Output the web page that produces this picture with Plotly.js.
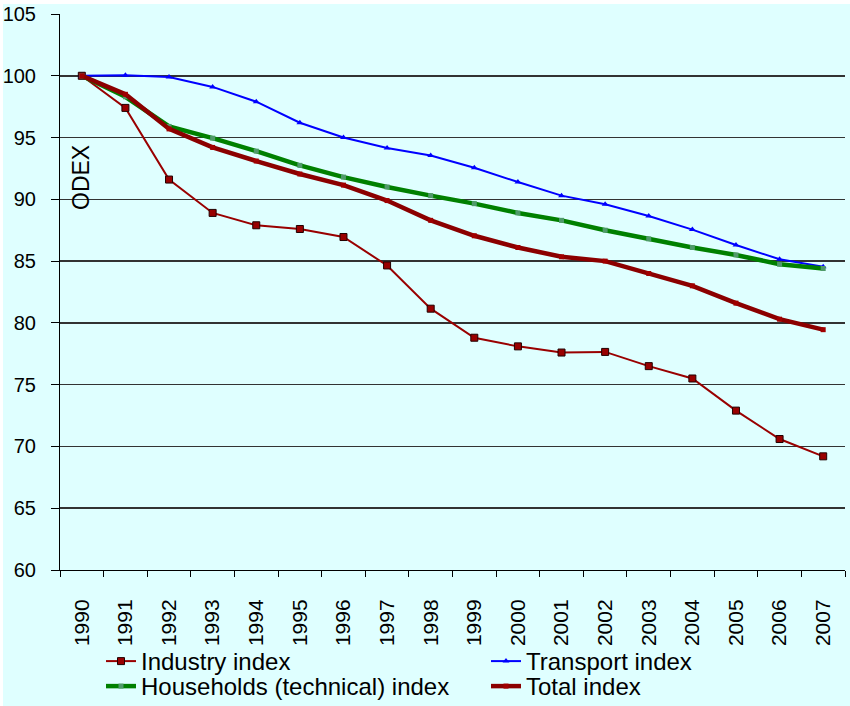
<!DOCTYPE html>
<html>
<head>
<meta charset="utf-8">
<script src="https://cdn.plot.ly/plotly-3.0.1.min.js"></script>
<style>html,body{margin:0;padding:0;background:#fff;}#chart{width:850px;height:706px;}</style>
</head>
<body>
<div id="chart"></div>
<script>
var years = ["1990","1991","1992","1993","1994","1995","1996","1997","1998","1999","2000","2001","2002","2003","2004","2005","2006","2007"];
var industryIndex = [100, 97.4, 91.6, 88.9, 87.9, 87.6, 86.95, 84.65, 81.15, 78.8, 78.1, 77.6, 77.65, 76.5, 75.5, 72.9, 70.6, 69.2];
var transportIndex = [100, 100.05, 99.9, 99.1, 97.9, 96.2, 95.0, 94.15, 93.55, 92.55, 91.4, 90.3, 89.6, 88.65, 87.55, 86.3, 85.15, 84.55];
var householdsIndex = [100, 98.3, 95.9, 94.95, 93.9, 92.75, 91.8, 91.0, 90.3, 89.65, 88.9, 88.3, 87.5, 86.8, 86.1, 85.5, 84.75, 84.4];
var totalIndex = [100, 98.5, 95.7, 94.2, 93.1, 92.05, 91.15, 89.9, 88.3, 87.05, 86.1, 85.35, 85.0, 84.0, 83.0, 81.6, 80.3, 79.45];
var yTicks = [60, 65, 70, 75, 80, 85, 90, 95, 100, 105];

var FONT = "Liberation Sans, Arial, sans-serif";

var traces = [
  {x: years, y: industryIndex, name: "Industry index", type: "scatter", mode: "lines+markers",
   line: {color: "#990000", width: 2}, marker: {symbol: "square", size: 7, color: "#990000", line: {color: "#220000", width: 1}},
   legend: "legend"},
  {x: years, y: transportIndex, name: "Transport index", type: "scatter", mode: "lines+markers",
   line: {color: "#0000FF", width: 2}, marker: {symbol: "triangle-up", size: 6, color: "#0000FF"},
   legend: "legend2"},
  {x: years, y: householdsIndex, name: "Households (technical) index", type: "scatter", mode: "lines+markers",
   line: {color: "#008000", width: 4.5}, marker: {symbol: "square", size: 5, color: "#4f9a6a"},
   legend: "legend3"},
  {x: years, y: totalIndex, name: "Total index", type: "scatter", mode: "lines+markers",
   line: {color: "#8B0000", width: 4.5}, marker: {symbol: "square", size: 5, color: "#a00000"},
   legend: "legend4"}
];

var PW = 785, PH = 556, PL = 60, PB = 570;
function px2x(px) { return (px - PL) / PW; }
function px2y(py) { return (PB - py) / PH; }

function mkLegend(xpx, ypx) {
  return {
    orientation: "h", xanchor: "left", yanchor: "middle", x: px2x(xpx), y: px2y(ypx),
    font: {family: FONT, size: 24, color: "#000"},
    bgcolor: "rgba(0,0,0,0)", borderwidth: 0, itemclick: false
  };
}

var layout = {
  width: 850, height: 706,
  margin: {l: 60, r: 5, t: 14, b: 136, pad: 0, autoexpand: false},
  paper_bgcolor: "#ffffff",
  plot_bgcolor: "rgba(0,0,0,0)",
  font: {family: FONT, size: 20, color: "#000"},
  showlegend: true,
  legend: mkLegend(101, 661.5),
  legend2: mkLegend(486, 661.5),
  legend3: mkLegend(101, 686.5),
  legend4: mkLegend(486, 686.5),
  xaxis: {
    type: "category", range: [-0.5, 17.5],
    tickangle: -90, tickson: "boundaries", ticks: "outside", ticklen: 6, tickcolor: "#000", tickwidth: 1,
    ticklabelstandoff: 20,
    showline: true, linecolor: "#000", linewidth: 1,
    showgrid: false, zeroline: false, automargin: false,
    tickfont: {family: FONT, size: 21, color: "#000"}
  },
  yaxis: {
    range: [60, 105], tickvals: yTicks, ticktext: yTicks.map(String),
    ticks: "outside", ticklen: 8, tickcolor: "#000", tickwidth: 1,
    ticklabelstandoff: 11,
    showline: true, linecolor: "#000", linewidth: 1,
    showgrid: true, gridcolor: "#333333", gridwidth: 1.5, zeroline: false, automargin: false,
    tickfont: {family: FONT, size: 20, color: "#000"}
  },
  shapes: [
    {type: "rect", xref: "paper", yref: "paper", layer: "below",
     x0: px2x(3), x1: px2x(850), y0: px2y(706), y1: px2y(4),
     fillcolor: "#DFFFFF", line: {width: 0}}
  ],
  annotations: [
    {text: "ODEX", xref: "paper", yref: "paper", x: px2x(81), y: px2y(178),
     xanchor: "center", yanchor: "middle", textangle: -90, showarrow: false,
     font: {family: FONT, size: 23, color: "#000"}}
  ]
};

Plotly.newPlot("chart", traces, layout, {displayModeBar: false, staticPlot: true});
</script>
</body>
</html>
